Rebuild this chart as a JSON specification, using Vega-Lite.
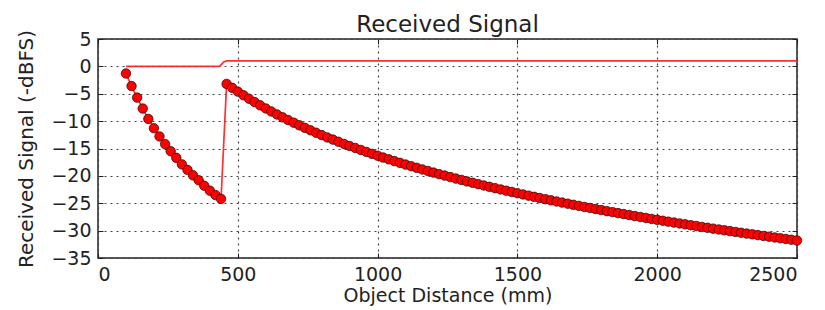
{
  "$schema": "https://vega.github.io/schema/vega-lite/v6.json",
  "width": 699,
  "height": 219,
  "autosize": "none",
  "padding": {"left": 98, "top": 39, "right": 28, "bottom": 52},
  "background": "white",
  "config": {
    "font": "DejaVu Sans",
    "view": {"stroke": "#222222", "strokeWidth": 1.5},
    "axis": {"domain": false, "labelColor": "#222222", "tickColor": "#222222", "titleColor": "#222222", "labelFontSize": 19, "titleFontSize": 20, "titleFontWeight": "normal"}
  },
  "title": {"text": "Received Signal", "fontSize": 23, "fontWeight": "normal", "color": "#222222", "offset": -8, "font": "DejaVu Sans"},
  "datasets": {
    "ref": [
      {"d": 100, "s": 0}, {"d": 435, "s": 0}, {"d": 450, "s": 0.8}, {"d": 460, "s": 1.0}, {"d": 2500, "s": 1.0}
    ],
    "sig": [
      {"d": 100, "s": -1.3}, {"d": 120, "s": -3.6}, {"d": 140, "s": -5.7}, {"d": 160, "s": -7.7}, {"d": 180, "s": -9.6},
      {"d": 200, "s": -11.3}, {"d": 220, "s": -12.8}, {"d": 240, "s": -14.2}, {"d": 260, "s": -15.5}, {"d": 280, "s": -16.7},
      {"d": 300, "s": -17.9}, {"d": 320, "s": -18.9}, {"d": 340, "s": -19.9}, {"d": 360, "s": -20.8}, {"d": 380, "s": -21.8},
      {"d": 400, "s": -22.7}, {"d": 420, "s": -23.5}, {"d": 440, "s": -24.2},
      {"d": 460, "s": -3.20}, {"d": 480, "s": -3.92}, {"d": 500, "s": -4.61}, {"d": 520, "s": -5.27}, {"d": 540, "s": -5.91},
      {"d": 560, "s": -6.52}, {"d": 580, "s": -7.12}, {"d": 600, "s": -7.69}, {"d": 620, "s": -8.24}, {"d": 640, "s": -8.78},
      {"d": 660, "s": -9.30}, {"d": 680, "s": -9.80}, {"d": 700, "s": -10.29}, {"d": 720, "s": -10.77}, {"d": 740, "s": -11.23},
      {"d": 760, "s": -11.68}, {"d": 780, "s": -12.12}, {"d": 800, "s": -12.55}, {"d": 820, "s": -12.97}, {"d": 840, "s": -13.37},
      {"d": 860, "s": -13.77}, {"d": 880, "s": -14.16}, {"d": 900, "s": -14.54}, {"d": 920, "s": -14.91}, {"d": 940, "s": -15.27},
      {"d": 960, "s": -15.63}, {"d": 980, "s": -15.98}, {"d": 1000, "s": -16.32}, {"d": 1020, "s": -16.65}, {"d": 1040, "s": -16.98},
      {"d": 1060, "s": -17.30}, {"d": 1080, "s": -17.62}, {"d": 1100, "s": -17.93}, {"d": 1120, "s": -18.23}, {"d": 1140, "s": -18.53},
      {"d": 1160, "s": -18.83}, {"d": 1180, "s": -19.11}, {"d": 1200, "s": -19.40}, {"d": 1220, "s": -19.68}, {"d": 1240, "s": -19.95},
      {"d": 1260, "s": -20.22}, {"d": 1280, "s": -20.49}, {"d": 1300, "s": -20.75}, {"d": 1320, "s": -21.01}, {"d": 1340, "s": -21.26},
      {"d": 1360, "s": -21.51}, {"d": 1380, "s": -21.76}, {"d": 1400, "s": -22.00}, {"d": 1420, "s": -22.24}, {"d": 1440, "s": -22.48},
      {"d": 1460, "s": -22.71}, {"d": 1480, "s": -22.94}, {"d": 1500, "s": -23.17}, {"d": 1520, "s": -23.39}, {"d": 1540, "s": -23.61},
      {"d": 1560, "s": -23.83}, {"d": 1580, "s": -24.05}, {"d": 1600, "s": -24.26}, {"d": 1620, "s": -24.47}, {"d": 1640, "s": -24.68},
      {"d": 1660, "s": -24.88}, {"d": 1680, "s": -25.08}, {"d": 1700, "s": -25.28}, {"d": 1720, "s": -25.48}, {"d": 1740, "s": -25.68},
      {"d": 1760, "s": -25.87}, {"d": 1780, "s": -26.06}, {"d": 1800, "s": -26.25}, {"d": 1820, "s": -26.44}, {"d": 1840, "s": -26.62},
      {"d": 1860, "s": -26.80}, {"d": 1880, "s": -26.98}, {"d": 1900, "s": -27.16}, {"d": 1920, "s": -27.34}, {"d": 1940, "s": -27.51},
      {"d": 1960, "s": -27.69}, {"d": 1980, "s": -27.86}, {"d": 2000, "s": -28.03}, {"d": 2020, "s": -28.20}, {"d": 2040, "s": -28.36},
      {"d": 2060, "s": -28.53}, {"d": 2080, "s": -28.69}, {"d": 2100, "s": -28.85}, {"d": 2120, "s": -29.01}, {"d": 2140, "s": -29.17},
      {"d": 2160, "s": -29.33}, {"d": 2180, "s": -29.48}, {"d": 2200, "s": -29.64}, {"d": 2220, "s": -29.79}, {"d": 2240, "s": -29.94},
      {"d": 2260, "s": -30.09}, {"d": 2280, "s": -30.24}, {"d": 2300, "s": -30.39}, {"d": 2320, "s": -30.54}, {"d": 2340, "s": -30.68},
      {"d": 2360, "s": -30.82}, {"d": 2380, "s": -30.97}, {"d": 2400, "s": -31.11}, {"d": 2420, "s": -31.25}, {"d": 2440, "s": -31.39},
      {"d": 2460, "s": -31.53}, {"d": 2480, "s": -31.66}, {"d": 2500, "s": -31.80}
    ]
  },
  "layer": [
    {
      "data": {"name": "ref"},
      "mark": {"type": "line", "color": "#ff1a1a", "strokeWidth": 1.7, "opacity": 0.9},
      "encoding": {
        "x": {"field": "d", "type": "quantitative", "scale": {"domain": [0, 2500], "nice": false, "zero": false},
              "axis": {"orient": "top", "labels": false, "title": null, "grid": false, "tickSize": -5, "values": [0, 500, 1000, 1500, 2000, 2500]}},
        "y": {"field": "s", "type": "quantitative", "scale": {"domain": [-35, 5], "nice": false, "zero": false},
              "axis": {"orient": "right", "labels": false, "title": null, "grid": false, "tickSize": -5, "values": [-35, -30, -25, -20, -15, -10, -5, 0, 5]}}
      }
    },
    {
      "data": {"name": "sig"},
      "mark": {"type": "line", "color": "#ff1a1a", "strokeWidth": 1.7, "opacity": 0.9},
      "encoding": {
        "x": {"field": "d", "type": "quantitative", "axis": null},
        "y": {"field": "s", "type": "quantitative", "axis": null}
      }
    },
    {
      "data": {"name": "sig"},
      "mark": {"type": "point", "filled": true, "fill": "#ff0000", "stroke": "#2a0000", "strokeWidth": 0.7, "size": 90, "opacity": 1},
      "encoding": {
        "x": {"field": "d", "type": "quantitative",
              "axis": {"orient": "bottom", "title": "Object Distance (mm)", "titleFontSize": 19, "format": "d", "values": [0, 500, 1000, 1500, 2000, 2500], "grid": true, "gridDash": [2, 4], "gridColor": "#444444", "gridWidth": 1.2, "tickSize": -5, "labelPadding": 12, "titlePadding": 2}},
        "y": {"field": "s", "type": "quantitative",
              "axis": {"orient": "left", "title": "Received Signal (-dBFS)", "format": "d", "values": [-35, -30, -25, -20, -15, -10, -5, 0, 5], "grid": true, "gridDash": [2, 4], "gridColor": "#444444", "gridWidth": 1.2, "tickSize": -5, "labelPadding": 12, "titlePadding": 14}}
      }
    }
  ],
  "resolve": {"axis": {"x": "independent", "y": "independent"}}
}
